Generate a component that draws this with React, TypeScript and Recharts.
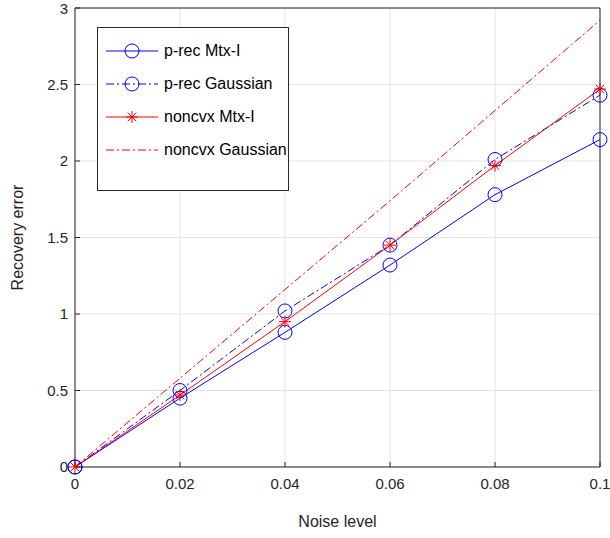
import { LineChart, Line, XAxis, YAxis, CartesianGrid, ReferenceLine } from 'recharts';

const noise = [0, 0.02, 0.04, 0.06, 0.08, 0.1];
const precMtx = [0, 0.45, 0.88, 1.32, 1.78, 2.14];
const precGauss = [0, 0.5, 1.02, 1.45, 2.01, 2.43];
const noncvxMtx = [0, 0.47, 0.95, 1.45, 1.97, 2.47];
const noncvxGauss = [0, 0.58, 1.16, 1.74, 2.33, 2.92];
const xTicks = [0, 0.02, 0.04, 0.06, 0.08, 0.1];
const yTicks = [0, 0.5, 1, 1.5, 2, 2.5, 3];

const data = noise.map((n, i) => ({
  n,
  precMtx: precMtx[i],
  precGauss: precGauss[i],
  noncvxMtx: noncvxMtx[i],
  noncvxGauss: noncvxGauss[i],
}));

const font = 'Liberation Sans, Arial, sans-serif';

const Circle = (props: any) => {
  const { cx, cy } = props;
  if (cx == null || cy == null) return null;
  return <circle cx={cx} cy={cy} r={7} fill="none" stroke="#0000ff" strokeWidth={1} />;
};

const Star = (props: any) => {
  const { cx, cy } = props;
  if (cx == null || cy == null) return null;
  const s = 6;
  const d = 4.3;
  return (
    <g stroke="#ff0000" strokeWidth={1}>
      <line x1={cx - s} y1={cy} x2={cx + s} y2={cy} />
      <line x1={cx} y1={cy - s} x2={cx} y2={cy + s} />
      <line x1={cx - d} y1={cy - d} x2={cx + d} y2={cy + d} />
      <line x1={cx - d} y1={cy + d} x2={cx + d} y2={cy - d} />
    </g>
  );
};

const legendItems = [
  { label: 'p-rec Mtx-I', color: '#0000ff', dash: undefined, marker: 'circle' },
  { label: 'p-rec Gaussian', color: '#0000ff', dash: '8 3 2 3', marker: 'circle' },
  { label: 'noncvx Mtx-I', color: '#ff0000', dash: undefined, marker: 'star' },
  { label: 'noncvx Gaussian', color: '#ff0000', dash: '8 3 2 3', marker: 'none' },
];

export default function App() {
  return (
    <div style={{ position: 'absolute', left: 0, top: 0, width: 610, height: 538, background: '#fff', fontFamily: font }}>
      <LineChart width={610} height={538} data={data} margin={{ top: 8, right: 10, left: 25, bottom: 31 }}>
        <CartesianGrid stroke="#e3e3e3" horizontalValues={yTicks} verticalValues={xTicks} />
        <XAxis
          dataKey="n"
          type="number"
          domain={[0, 0.1]}
          ticks={xTicks}
          tickFormatter={(v: number) => String(v)}
          stroke="#262626"
          tickSize={-5}
          tickMargin={16}
          height={40}
          tick={{ fill: '#262626', fontSize: 15, fontFamily: font }}
          label={{ value: 'Noise level', position: 'insideBottom', offset: -20, fill: '#262626', fontSize: 16, fontFamily: font }}
        />
        <YAxis
          type="number"
          domain={[0, 3]}
          ticks={yTicks}
          stroke="#262626"
          tickSize={-5}
          tickMargin={12}
          width={50}
          tick={{ fill: '#262626', fontSize: 15, fontFamily: font }}
          label={{ value: 'Recovery error', angle: -90, position: 'insideLeft', offset: -8, fill: '#262626', fontSize: 16, fontFamily: font, style: { textAnchor: 'middle' } }}
        />
        <ReferenceLine y={3} stroke="#262626" />
        <ReferenceLine x={0.1} stroke="#262626" />
        <Line dataKey="noncvxGauss" stroke="#ff0000" strokeDasharray="8 3 2 3" dot={false} isAnimationActive={false} />
        <Line dataKey="precGauss" stroke="#0000ff" strokeDasharray="8 3 2 3" dot={<Circle />} isAnimationActive={false} />
        <Line dataKey="precMtx" stroke="#0000ff" dot={<Circle />} isAnimationActive={false} />
        <Line dataKey="noncvxMtx" stroke="#ff0000" dot={<Star />} isAnimationActive={false} />
      </LineChart>
      <div style={{ position: 'absolute', left: 97, top: 27, width: 190, height: 162, border: '1px solid #262626', background: '#fff' }}>
        {legendItems.map((it, i) => (
          <div key={i} style={{ position: 'absolute', left: 6, top: 11 + i * 33, height: 24, display: 'flex', alignItems: 'center', whiteSpace: 'nowrap' }}>
            <svg width={56} height={24}>
              <line x1={2} y1={12} x2={54} y2={12} stroke={it.color} strokeDasharray={it.dash} />
              {it.marker === 'circle' && <Circle cx={28} cy={12} />}
              {it.marker === 'star' && <Star cx={28} cy={12} />}
            </svg>
            <span style={{ fontSize: 16, color: '#000', marginLeft: 4 }}>{it.label}</span>
          </div>
        ))}
      </div>
    </div>
  );
}
